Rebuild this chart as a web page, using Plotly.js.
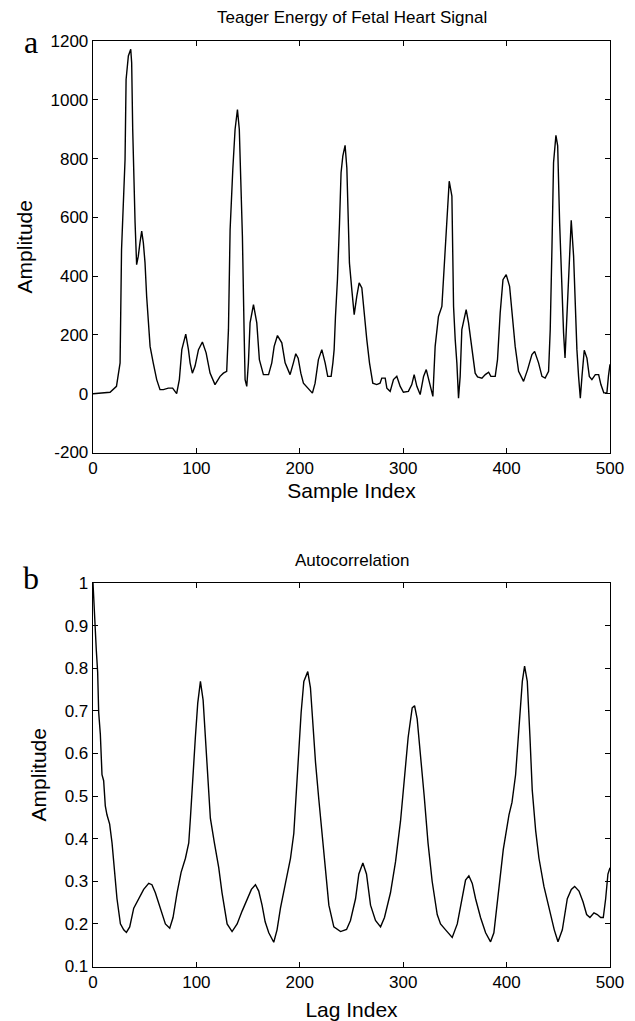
<!DOCTYPE html>
<html>
<head>
<meta charset="utf-8">
<script src="https://cdn.plot.ly/plotly-3.0.1.min.js"></script>
<style>html,body{margin:0;padding:0;background:#fff;}#chart{width:635px;height:1021px;}</style>
</head>
<body>
<div id="chart"></div>
<script>
// Panel a: Teager energy of fetal heart signal
const sampleIndex = [0,10,16.5,22.7,26.2,27.6,29.3,31,32,34.2,36.5,37.4,38.4,39.4,40.7,42.2,43.8,45.4,47.1,48.7,50.3,51.9,53.5,55.2,58.3,61.6,64.8,68.1,72.8,77,80.9,83.5,85.9,89.7,92.3,93.9,96.1,98.7,102,105.8,109.4,113.2,118,122.9,126.1,129.3,131,132.6,135.2,137.4,139.7,141.5,142.9,144.5,146.1,147.1,148.7,150.3,151.9,155.2,158.4,160.9,164.8,169.8,172.9,175.2,178.4,182.6,185.8,190.6,193.8,196.1,198.4,201,203.5,208.3,212.2,214.8,218,221.3,224.5,227,230.3,232,233.2,234.5,236.4,238.4,239.9,241.6,243.8,245.5,247,248,250.3,252.6,255.1,257.4,260,262.2,264.8,267.4,270.6,274.4,277.6,279.3,282.6,284.2,287.4,290.6,293.8,297.1,300.2,305,308.3,310.6,313.2,316.4,319.7,322.3,324.5,326.7,328.7,330.9,334.1,337.4,338.9,340.6,342.2,344.5,347.1,348.7,350.3,351.9,353.5,355.1,356.7,360.9,363.2,366.5,369.6,371.9,376.1,379.4,382.6,384.8,389,391.2,393.8,396.5,399.6,402.9,405.2,408.3,411.6,416.4,420.3,424.5,427.1,430.9,434.2,437.3,440.6,442.2,443.9,445.4,447.7,449.4,451.3,453.5,455.1,456.5,458.4,460.9,462.5,464.8,466.4,468,469.6,471.3,472.9,475.1,477.7,480,482.5,485.8,489,491.2,494,497,498.5,500];
const teagerEnergy = [0,2,5,25,105,490,627,797,1069,1149,1172,1126,899,729,582,439,468,513,553,513,446,331,241,161,104,48,14,14,19,19,0,48,150,203,150,105,70,94,150,176,139,70,31,59,70,76,218,559,763,899,967,899,729,536,218,48,25,105,241,303,241,116,65,65,105,161,198,173,105,65,105,136,121,70,36,19,2,36,116,150,105,59,59,105,150,263,388,581,752,808,845,768,559,445,354,269,331,377,360,275,184,105,36,31,36,53,53,19,8,48,59,25,5,8,31,65,25,-3,59,82,48,25,-9,161,263,297,388,502,593,723,672,297,184,105,-15,59,218,286,241,161,70,57,53,65,73,59,59,116,275,388,405,365,275,161,76,42,82,133,144,105,59,53,76,218,502,786,879,843,581,331,207,122,286,513,590,468,297,150,59,-15,59,148,121,59,48,65,65,31,3,3,60,100];

// Panel b: autocorrelation
const lagIndex = [0,1.3,3.2,4.5,5.5,7.1,8.7,10.3,11.9,13.5,16.1,18.4,20.6,23.2,26.5,29.7,32.3,35.5,39.4,44.2,49,53.9,57,60.3,65.2,70,74.2,77.4,81.3,85.2,89.4,92.6,94.2,96.5,99,101.3,103.9,106.5,108.7,111,113.5,117.4,121.6,124.8,129.7,134.5,139.4,144.2,149,153.2,157.1,160.3,163.5,166.5,170,174.8,178,181.3,186.1,191,194.2,196.8,199,201.3,203.9,207.7,210.3,212.9,215.2,218.4,221.6,224.8,228.1,232.9,239.4,245.2,249,253.9,257.1,261,264.5,268.4,273.2,278.1,281.9,287.7,292.6,297.4,301.3,304.8,308.7,311,313.5,316.8,320.3,324,328,332.9,336.1,341,347.4,352.3,357.1,360.3,363.5,366.8,370,374.8,379.7,384.5,387.7,391.6,396.8,402.3,405.2,408.7,411.9,415.2,417.4,420,422.6,424.8,428.1,431.3,436.1,441,446.1,449.7,453.9,458.7,462.6,465.8,470,473.9,477.4,480.6,484.5,487.7,491,493.5,495.8,498,500];
const autocorr = [1.0,0.922,0.842,0.791,0.696,0.645,0.55,0.536,0.477,0.456,0.434,0.39,0.332,0.259,0.2,0.186,0.18,0.193,0.237,0.259,0.281,0.295,0.292,0.273,0.237,0.2,0.19,0.215,0.273,0.321,0.354,0.39,0.448,0.55,0.638,0.718,0.769,0.725,0.638,0.536,0.448,0.39,0.332,0.273,0.2,0.182,0.2,0.23,0.259,0.281,0.292,0.277,0.244,0.205,0.179,0.157,0.186,0.237,0.295,0.354,0.412,0.514,0.623,0.696,0.769,0.792,0.754,0.66,0.579,0.492,0.405,0.317,0.244,0.193,0.182,0.187,0.208,0.259,0.317,0.343,0.317,0.244,0.208,0.193,0.215,0.273,0.346,0.441,0.55,0.638,0.707,0.712,0.681,0.6,0.5,0.39,0.3,0.222,0.2,0.186,0.168,0.2,0.259,0.303,0.313,0.295,0.259,0.215,0.179,0.158,0.179,0.259,0.375,0.456,0.485,0.55,0.66,0.769,0.805,0.769,0.638,0.514,0.419,0.354,0.288,0.237,0.186,0.158,0.186,0.259,0.281,0.288,0.277,0.252,0.222,0.215,0.226,0.222,0.215,0.215,0.259,0.317,0.332];

const xTicks = [0,100,200,300,400,500];
const yTicksA = [-200,0,200,400,600,800,1000,1200];
const yTickTextA = ['-200','0','200','400','600','800','1000','1200'];
const yTicksB = [0.1,0.2,0.3,0.4,0.5,0.6,0.7,0.8,0.9,1];

const tickFont = {family: '"Liberation Sans Narrow", "Liberation Sans", Arial, sans-serif', size: 17, color: '#000'};
const labelFont = {family: '"Liberation Sans", Arial, sans-serif', size: 21, color: '#000'};
const titleFont = {family: '"Liberation Sans", Arial, sans-serif', size: 17, color: '#000'};

function axisBase(extra) {
  return Object.assign({
    showline: true, linecolor: '#000', linewidth: 1.3, mirror: 'ticks',
    ticks: 'inside', ticklen: 5, tickwidth: 1, tickcolor: '#000',
    showgrid: false, zeroline: false, tickfont: tickFont, fixedrange: true
  }, extra);
}

const traces = [
  {x: sampleIndex, y: teagerEnergy, type: 'scatter', mode: 'lines',
   line: {color: '#000', width: 1.4}, xaxis: 'x', yaxis: 'y', hoverinfo: 'skip'},
  {x: lagIndex, y: autocorr, type: 'scatter', mode: 'lines',
   line: {color: '#000', width: 1.4}, xaxis: 'x2', yaxis: 'y2', hoverinfo: 'skip'}
];

const W = 635, H = 1021;
const layout = {
  width: W, height: H,
  margin: {l: 92.5, r: 25, t: 0, b: 0},
  paper_bgcolor: '#fff', plot_bgcolor: '#fff',
  showlegend: false,
  xaxis: axisBase({range: [0, 500], tickvals: xTicks, domain: [0, 1], anchor: 'y',
    title: {text: 'Sample Index', font: labelFont, standoff: 6}}),
  yaxis: axisBase({range: [-200, 1200], tickvals: yTicksA, ticktext: yTickTextA, domain: [1 - 452.5 / H, 1 - 41 / H], anchor: 'x',
    title: {text: 'Amplitude', font: labelFont, standoff: 12}}),
  xaxis2: axisBase({range: [0, 500], tickvals: xTicks, domain: [0, 1], anchor: 'y2',
    title: {text: 'Lag Index', font: labelFont, standoff: 11}}),
  yaxis2: axisBase({range: [0.1, 1], tickvals: yTicksB, domain: [1 - 966.5 / H, 1 - 583 / H], anchor: 'x2',
    title: {text: 'Amplitude', font: labelFont, standoff: 12}}),
  annotations: [
    {text: 'Teager Energy of Fetal Heart Signal', xref: 'paper', yref: 'paper', x: 0.5, y: 1 - 18 / H,
     xanchor: 'center', yanchor: 'middle', showarrow: false, font: titleFont},
    {text: 'Autocorrelation', xref: 'paper', yref: 'paper', x: 0.5, y: 1 - 560 / H,
     xanchor: 'center', yanchor: 'middle', showarrow: false, font: titleFont},
    {text: 'a', xref: 'paper', yref: 'paper', x: -62 / (W - 117.5), y: 1 - 42 / H,
     xanchor: 'center', yanchor: 'middle', showarrow: false,
     font: {family: '"Liberation Serif", "Times New Roman", serif', size: 32, color: '#000'}},
    {text: 'b', xref: 'paper', yref: 'paper', x: -62 / (W - 117.5), y: 1 - 578 / H,
     xanchor: 'center', yanchor: 'middle', showarrow: false,
     font: {family: '"Liberation Serif", "Times New Roman", serif', size: 32, color: '#000'}}
  ]
};

Plotly.newPlot('chart', traces, layout, {staticPlot: true, displayModeBar: false});
</script>
</body>
</html>
